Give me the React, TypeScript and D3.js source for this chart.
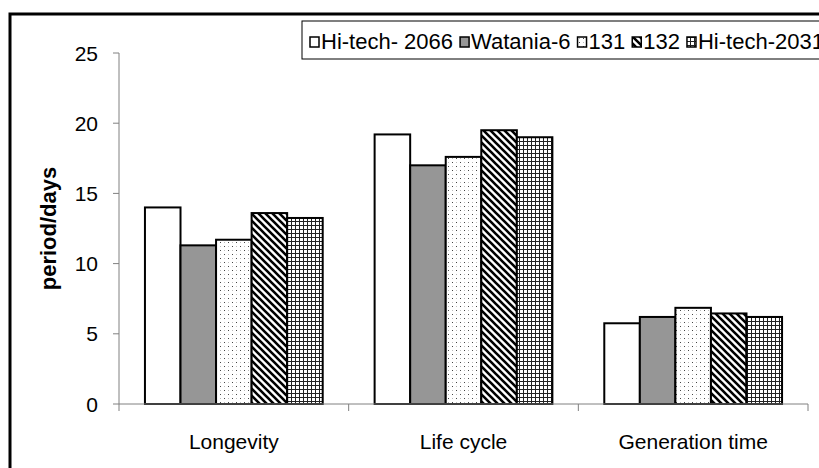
import React, { useEffect, useRef } from 'react';
import * as d3 from 'd3';

const categories = ['Longevity', 'Life cycle', 'Generation time'];
const seriesNames = ['Hi-tech- 2066', 'Watania-6', '131', '132', 'Hi-tech-2031'];
const hiTech2066 = [14.0, 19.2, 5.75];
const watania6 = [11.3, 17.0, 6.2];
const line131 = [11.7, 17.6, 6.85];
const line132 = [13.6, 19.5, 6.45];
const hiTech2031 = [13.25, 19.0, 6.2];
const yTicks = [0, 5, 10, 15, 20, 25];

const seriesValues = [hiTech2066, watania6, line131, line132, hiTech2031];
const fills = ['#ffffff', '#969696', 'url(#dots)', 'url(#diag)', 'url(#grid)'];

const App = () => {
  const ref = useRef(null);

  useEffect(() => {
    document.body.style.margin = '0';
    const root = d3.select(ref.current);
    root.selectAll('*').remove();

    const W = 819;
    const H = 468;
    const margin = { top: 53, right: 11, bottom: 64, left: 119 };
    const width = W - margin.left - margin.right;
    const height = H - margin.top - margin.bottom;
    const font = 'Arial, "Liberation Sans", sans-serif';

    const svg = root.append('svg')
      .attr('width', W)
      .attr('height', H)
      .style('display', 'block')
      .style('background', '#fff');

    // patterns for the bar fills
    const defs = svg.append('defs');
    const dots = defs.append('pattern').attr('id', 'dots')
      .attr('patternUnits', 'userSpaceOnUse').attr('width', 8).attr('height', 8);
    dots.append('rect').attr('width', 8).attr('height', 8).attr('fill', '#fff');
    dots.append('rect').attr('x', 1).attr('y', 1).attr('width', 1).attr('height', 1).attr('fill', '#444');
    dots.append('rect').attr('x', 5).attr('y', 5).attr('width', 1).attr('height', 1).attr('fill', '#444');
    dots.append('rect').attr('x', 1).attr('y', 5).attr('width', 1).attr('height', 1).attr('fill', '#bbb');
    dots.append('rect').attr('x', 5).attr('y', 1).attr('width', 1).attr('height', 1).attr('fill', '#bbb');

    const diag = defs.append('pattern').attr('id', 'diag')
      .attr('patternUnits', 'userSpaceOnUse').attr('width', 7).attr('height', 7);
    diag.append('rect').attr('width', 7).attr('height', 7).attr('fill', '#fff');
    diag.append('path').attr('d', 'M-2,-2 L9,9 M-9,-2 L2,9 M5,-2 L16,9')
      .attr('stroke', '#000').attr('stroke-width', 2.6);

    const grid = defs.append('pattern').attr('id', 'grid')
      .attr('patternUnits', 'userSpaceOnUse').attr('width', 4).attr('height', 4);
    grid.append('rect').attr('width', 4).attr('height', 4).attr('fill', '#fff');
    grid.append('rect').attr('width', 4).attr('height', 1).attr('fill', '#222');
    grid.append('rect').attr('width', 1).attr('height', 4).attr('fill', '#222');

    // outer frame
    svg.append('rect')
      .attr('x', 10).attr('y', 14).attr('width', 830).attr('height', 480)
      .attr('fill', 'none').attr('stroke', '#000').attr('stroke-width', 3);

    const g = svg.append('g').attr('transform', `translate(${margin.left},${margin.top})`);

    const x0 = d3.scaleBand().domain(categories).range([0, width]).padding(0);
    const gap = 1.46 * (x0.bandwidth() / (seriesNames.length + 1.46));
    const x1 = d3.scaleBand().domain(seriesNames)
      .range([gap / 2, x0.bandwidth() - gap / 2]).padding(0);
    const y = d3.scaleLinear().domain([0, 25]).range([height, 0]);

    // y axis
    g.append('line').attr('x1', 0).attr('x2', 0).attr('y1', y(25)).attr('y2', y(0))
      .attr('stroke', '#808080').attr('stroke-width', 1);
    yTicks.forEach(t => {
      g.append('line').attr('x1', -6).attr('x2', 0).attr('y1', y(t)).attr('y2', y(t))
        .attr('stroke', '#808080');
      g.append('text').attr('x', -21).attr('y', y(t)).attr('dy', '0.36em')
        .attr('text-anchor', 'end').attr('font-family', font).attr('font-size', 21)
        .attr('fill', '#000').text(t);
    });

    // bars
    categories.forEach((c, ci) => {
      seriesNames.forEach((s, si) => {
        const v = seriesValues[si][ci];
        g.append('rect')
          .attr('x', x0(c) + x1(s))
          .attr('y', y(v))
          .attr('width', x1.bandwidth())
          .attr('height', y(0) - y(v))
          .attr('fill', fills[si])
          .attr('stroke', '#000')
          .attr('stroke-width', 2);
      });
    });

    // x axis
    g.append('line').attr('x1', 0).attr('x2', width).attr('y1', y(0)).attr('y2', y(0))
      .attr('stroke', '#808080');
    [...categories.map(c => x0(c)), width].forEach(px => {
      g.append('line').attr('x1', px).attr('x2', px).attr('y1', y(0)).attr('y2', y(0) + 7)
        .attr('stroke', '#808080');
    });
    categories.forEach(c => {
      g.append('text').attr('x', x0(c) + x0.bandwidth() / 2).attr('y', y(0) + 45)
        .attr('text-anchor', 'middle').attr('font-family', font).attr('font-size', 21)
        .attr('fill', '#000').text(c);
    });

    // y label
    svg.append('text')
      .attr('transform', `translate(56,${margin.top + height / 2}) rotate(-90)`)
      .attr('text-anchor', 'middle').attr('font-family', font).attr('font-size', 22)
      .attr('font-weight', 'bold').attr('fill', '#000').text('period/days');

    // legend
    const lg = svg.append('g').attr('transform', 'translate(302,21)');
    lg.append('rect').attr('x', 0).attr('y', 0).attr('width', 560).attr('height', 38)
      .attr('fill', '#fff').attr('stroke', '#000').attr('stroke-width', 1);
    let lx = 8;
    seriesNames.forEach((s, si) => {
      lg.append('rect').attr('x', lx).attr('y', 16).attr('width', 9).attr('height', 10)
        .attr('fill', fills[si]).attr('stroke', '#000').attr('stroke-width', 1.5);
      const t = lg.append('text').attr('x', lx + 11).attr('y', 28)
        .attr('font-family', font).attr('font-size', 22).attr('fill', '#000').text(s);
      const tw = (t.node() as SVGTextElement).getComputedTextLength();
      lx += 11 + tw + 7;
    });
  }, []);

  return <div ref={ref}></div>;
};

export default App;
